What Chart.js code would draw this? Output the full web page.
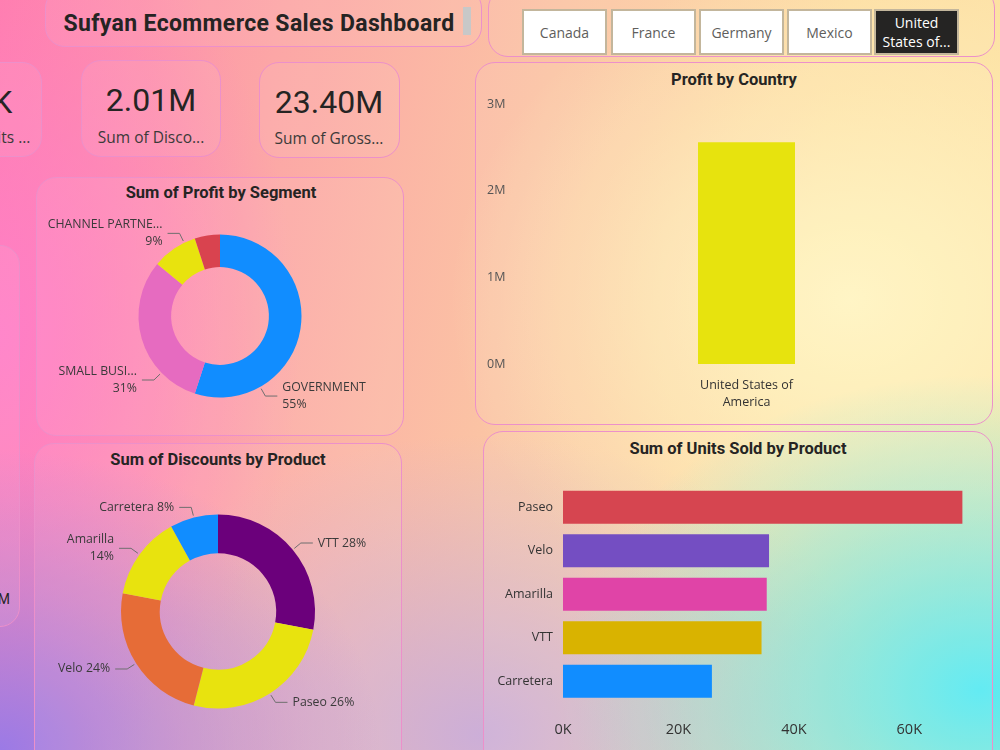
<!DOCTYPE html>
<html><head><meta charset="utf-8">
<script src="https://cdn.jsdelivr.net/npm/chart.js@4.4.1/dist/chart.umd.min.js"></script>
<style>
html,body{margin:0;padding:0;width:1000px;height:750px;overflow:hidden;}
body{position:relative;font-family:"Open Sans","Segoe UI",sans-serif;
background:
 radial-gradient(ellipse 42% 42% at 98% 92%, rgba(88,234,242,1) 0%, rgba(88,234,242,0.6) 40%, rgba(88,234,242,0) 100%),
 radial-gradient(ellipse 38% 40% at 0% 100%, rgba(155,122,230,1) 0%, rgba(160,125,228,0.5) 50%, rgba(160,125,228,0) 100%),
 radial-gradient(ellipse 30% 60% at 0% 45%, rgba(255,125,200,0.95) 0%, rgba(255,125,200,0) 100%),
 radial-gradient(ellipse 40% 45% at 85% 40%, rgba(255,246,195,0.95) 0%, rgba(255,246,195,0) 100%),
 radial-gradient(ellipse 40% 40% at 48% 98%, rgba(196,170,225,0.85) 0%, rgba(196,170,225,0) 100%),
 linear-gradient(100deg, #FF7FAA 0%, #FCA6A6 25%, #FBC4A4 50%, #FDDC9E 75%, #FDE3A4 100%);}
.card{position:absolute;border:1.5px solid #EC90CA;border-radius:20px;background:rgba(255,255,255,0.07);box-sizing:border-box;}
.ttl{position:absolute;font-family:Roboto,sans-serif;font-weight:700;color:#252423;white-space:nowrap;text-align:center;transform:translateX(-50%);line-height:1;}
.kv{position:absolute;font-family:Roboto,sans-serif;font-size:32px;color:#252423;white-space:nowrap;text-align:center;transform:translateX(-50%);line-height:1;}
.kl{position:absolute;font-family:"Open Sans",sans-serif;font-size:15.5px;color:#3b3a39;white-space:nowrap;text-align:center;transform:translateX(-50%);line-height:1;}
.btn{position:absolute;top:9px;height:46px;width:85px;box-sizing:border-box;border:2px solid #C3B69C;background:#fff;color:#605E5C;font-size:14px;display:flex;align-items:center;justify-content:center;text-align:center;line-height:19px;}
.btn.sel{background:#252423;color:#fff;}
.cv{position:absolute;}
</style></head>
<body>
<div class="card" style="left:45px;top:-12px;width:437px;height:59px;"></div>
<div class="ttl" style="left:259px;top:12px;font-size:23px;letter-spacing:0.35px;">Sufyan Ecommerce Sales Dashboard</div>
<div style="position:absolute;left:463px;top:7px;width:8px;height:28px;background:#C8C8C8;"></div>

<div class="card" style="left:488px;top:-12px;width:507px;height:69px;"></div>
<div id="slicer"></div>

<div class="card" style="left:-100px;top:62px;width:142px;height:95px;"></div>
<div class="card" style="left:81px;top:60px;width:140px;height:97px;"></div>
<div class="card" style="left:259px;top:62px;width:141px;height:96px;"></div>
<div id="kpis"></div>

<div class="card" style="left:-100px;top:245px;width:120px;height:382px;"></div>
<div style="position:absolute;left:-60px;top:591px;width:70px;text-align:right;font-family:Roboto,sans-serif;font-size:14px;color:#252423;">0.2M</div>

<div class="card" style="left:36px;top:177px;width:368px;height:259px;"></div>
<div class="ttl" style="left:221px;top:185px;font-size:16.5px;">Sum of Profit by Segment</div>
<div class="cv" style="left:40px;top:200px;width:360px;height:232px;"><canvas id="seg"></canvas></div>

<div class="card" style="left:34px;top:443px;width:368px;height:330px;"></div>
<div class="ttl" style="left:218px;top:452px;font-size:16.5px;">Sum of Discounts by Product</div>
<div class="cv" style="left:38px;top:480px;width:360px;height:263px;"><canvas id="disc"></canvas></div>

<div class="card" style="left:475px;top:62px;width:518px;height:363px;"></div>
<div class="ttl" style="left:734px;top:72px;font-size:16.5px;">Profit by Country</div>
<div class="cv" style="left:487px;top:95px;width:491px;height:325px;"><canvas id="country"></canvas></div>

<div class="card" style="left:483px;top:431px;width:510px;height:340px;"></div>
<div class="ttl" style="left:738px;top:441px;font-size:16.5px;">Sum of Units Sold by Product</div>
<div class="cv" style="left:483px;top:468px;width:505px;height:277px;"><canvas id="units"></canvas></div>

<script>
// ---- data ----
const countries = ["Canada", "France", "Germany", "Mexico", "United States of..."];
const selectedCountry = "United States of...";
const kpiValues = ["200.38K", "2.01M", "23.40M"];
const kpiNames = ["Sum of Units ...", "Sum of Disco...", "Sum of Gross..."];

const segments = ["Government", "Small Business", "Channel Partners", "Midmarket"];
const segmentShort = ["GOVERNMENT", "SMALL BUSI...", "CHANNEL PARTNE...", ""];
const segmentProfit = [1408000, 794000, 230000, 128000];

const discountProducts = ["VTT", "Paseo", "Velo", "Amarilla", "Carretera"];
const discountValues = [563000, 523000, 482000, 281000, 161000];

const profitCountries = [["United States of", "America"]];
const countryProfit = [2560000];

const unitProducts = ["Paseo", "Velo", "Amarilla", "VTT", "Carretera"];
const unitsSold = [69200, 35700, 35300, 34400, 25800];

// ---- html parts ----
const btnLeft = [522, 611, 699, 787, 874];
const sl = document.getElementById('slicer');
countries.forEach((c, i) => {
  const d = document.createElement('div');
  d.className = 'btn' + (c === selectedCountry ? ' sel' : '');
  d.style.left = btnLeft[i] + 'px';
  if (c === selectedCountry) d.innerHTML = 'United<br>States of...'; else d.textContent = c;
  sl.appendChild(d);
});
const kp = document.getElementById('kpis');
const kpiX = [-47, 151, 329];
const kpiLX = [-24, 151, 329];
const kpiY = [[86, 130], [84, 130], [86, 131]];
kpiValues.forEach((v, i) => {
  const a = document.createElement('div'); a.className = 'kv'; a.textContent = v;
  a.style.left = kpiX[i] + 'px'; a.style.top = kpiY[i][0] + 'px'; kp.appendChild(a);
  const b = document.createElement('div'); b.className = 'kl'; b.textContent = kpiNames[i];
  b.style.left = kpiLX[i] + 'px'; b.style.top = kpiY[i][1] + 'px'; kp.appendChild(b);
});

// ---- slice label plugin ----
const sliceLabels = {
  id: 'sliceLabels',
  afterDatasetsDraw(chart, args, opts) {
    const ctx = chart.ctx;
    const ds = chart.data.datasets[0].data;
    const total = ds.reduce((a, b) => a + b, 0);
    chart.getDatasetMeta(0).data.forEach((arc, i) => {
      const lines = opts.lines(i, ds[i] / total);
      if (!lines) return;
      const p = arc.getProps(['x', 'y', 'startAngle', 'endAngle', 'outerRadius'], true);
      const f = opts.anchor ? opts.anchor[i] : 0.5;
      const a = p.startAngle + (p.endAngle - p.startAngle) * f;
      const c = Math.cos(a), s = Math.sin(a);
      const R = p.outerRadius;
      const x1 = p.x + c * (R + 2), y1 = p.y + s * (R + 2);
      const x2 = p.x + c * (R + 10.5), y2 = p.y + s * (R + 10.5);
      const side = c >= 0 ? 1 : -1;
      const x3 = x2 + side * 12;
      ctx.save();
      ctx.strokeStyle = '#6f6f6f'; ctx.lineWidth = 1;
      ctx.beginPath(); ctx.moveTo(x1, y1); ctx.lineTo(x2, y2); ctx.lineTo(x3, y2); ctx.stroke();
      ctx.font = '12.3px "Open Sans", sans-serif';
      ctx.fillStyle = '#3a3a3a';
      ctx.textAlign = side > 0 ? 'left' : 'right';
      ctx.textBaseline = 'middle';
      const tx = x3 + side * 5;
      const lh = 17;
      const y0 = y2 - (lines.length - 1) * lh / 2;
      lines.forEach((t, k) => ctx.fillText(t, tx, y0 + k * lh));
      ctx.restore();
    });
  }
};
Chart.register(sliceLabels);

const pct = f => Math.round(f * 100) + '%';
const base = {responsive: true, maintainAspectRatio: false, animation: false, events: []};

new Chart(document.getElementById('seg'), {
  type: 'doughnut',
  data: {labels: segments, datasets: [{data: segmentProfit, backgroundColor: ['#118DFF', '#E66BC0', '#E8E30E', '#D9434F'], borderWidth: 0}]},
  options: Object.assign({}, base, {
    cutout: '60%',
    layout: {padding: {top: 34.5, bottom: 34.5, left: 0, right: 0}},
    plugins: {legend: {display: false}, tooltip: {enabled: false},
      sliceLabels: {anchor: [0.76, 0.25, 0.75, 0.5],
        lines: (i, f) => segmentShort[i] ? [segmentShort[i], pct(f)] : null}}
  })
});

new Chart(document.getElementById('disc'), {
  type: 'doughnut',
  data: {labels: discountProducts, datasets: [{data: discountValues, backgroundColor: ['#6B007B', '#E8E30E', '#E66C37', '#E8E30E', '#118DFF'], borderWidth: 0}]},
  options: Object.assign({}, base, {
    cutout: '60%',
    layout: {padding: {top: 34.5, bottom: 34.5, left: 0, right: 0}},
    plugins: {legend: {display: false}, tooltip: {enabled: false},
      sliceLabels: {lines: (i, f) => discountProducts[i] === 'Amarilla' ? [discountProducts[i], pct(f)] : [discountProducts[i] + ' ' + pct(f)]}}
  })
});

const tickFont = {family: '"Open Sans", sans-serif', size: 12.5};
new Chart(document.getElementById('country'), {
  type: 'bar',
  data: {labels: profitCountries, datasets: [{data: countryProfit, backgroundColor: '#E7E30E', barPercentage: 0.2095, categoryPercentage: 1}]},
  options: Object.assign({}, base, {
    layout: {padding: {top: 9, left: 0, right: 0, bottom: 0}},
    plugins: {legend: {display: false}, tooltip: {enabled: false}, sliceLabels: false},
    scales: {
      y: {min: 0, max: 3000000, grid: {display: false, drawTicks: false}, border: {display: false},
        ticks: {stepSize: 1000000, callback: v => (v / 1e6) + 'M', color: '#555', font: tickFont, crossAlign: 'far', padding: 0},
        afterFit: s => { s.width = 28; }},
      x: {grid: {display: false, drawTicks: false}, border: {display: false},
        ticks: {color: '#333', font: {family: '"Open Sans", sans-serif', size: 12.5, lineHeight: 1.36}, padding: 13},
        afterFit: s => { s.height = 56; }}
    }
  })
});

new Chart(document.getElementById('units'), {
  type: 'bar',
  data: {labels: unitProducts, datasets: [{data: unitsSold, backgroundColor: ['#D64550', '#744EC2', '#E044A7', '#D9B300', '#118DFF'], barPercentage: 0.76, categoryPercentage: 1}]},
  options: Object.assign({}, base, {
    indexAxis: 'y',
    layout: {padding: {top: 17, left: 0, right: 21, bottom: 0}},
    plugins: {legend: {display: false}, tooltip: {enabled: false}, sliceLabels: false},
    scales: {
      x: {min: 0, max: 70000, grid: {display: false, drawTicks: false}, border: {display: false},
        ticks: {stepSize: 10000, callback: v => v % 20000 === 0 ? (v / 1000) + 'K' : null, color: '#333', font: {family: '"Open Sans", sans-serif', size: 14.5}, padding: 18, maxRotation: 0, autoSkip: false},
        afterFit: s => { s.height = 42; }},
      y: {grid: {display: false, drawTicks: false}, border: {display: false},
        ticks: {color: '#333', font: tickFont, padding: 10},
        afterFit: s => { s.width = 80; }}
    }
  })
});
</script>
</body></html>
